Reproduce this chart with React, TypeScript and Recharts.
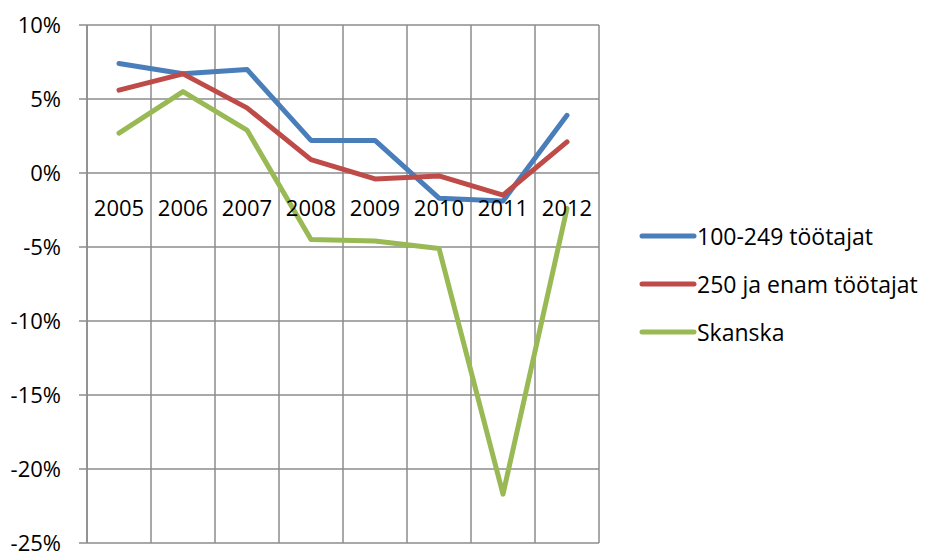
import React from 'react';
import { LineChart, Line, XAxis, YAxis, CartesianGrid, Legend, ReferenceDot } from 'recharts';

const years = ['2005', '2006', '2007', '2008', '2009', '2010', '2011', '2012'];
const mid = [7.4, 6.7, 7.0, 2.2, 2.2, -1.7, -1.9, 3.9];
const large = [5.6, 6.7, 4.4, 0.9, -0.4, -0.2, -1.5, 2.1];
const skanska = [2.7, 5.5, 2.9, -4.5, -4.6, -5.1, -21.7, -2.4];
const yTicks = [-25, -20, -15, -10, -5, 0, 5, 10];

const seriesNames = ['100-249 töötajat', '250 ja enam töötajat', 'Skanska'];
const colors = ['#4a7ebb', '#be4b48', '#98b954'];

const data = years.map((y, i) => ({ year: y, mid: mid[i], large: large[i], skanska: skanska[i] }));

const FONT = '"Open Sans", sans-serif';
const GRID = '#8c8c8c';

const LegendContent = () => (
  <div style={{ width: 326, paddingLeft: 40, boxSizing: 'border-box', fontFamily: FONT, fontSize: 23, color: '#000' }}>
    {seriesNames.map((n, i) => (
      <div key={n} style={{ height: 48, display: 'flex', alignItems: 'center', whiteSpace: 'nowrap' }}>
        <svg width={58} height={10} style={{ display: 'block' }}>
          <line x1={3} y1={5} x2={55} y2={5} stroke={colors[i]} strokeWidth={5} strokeLinecap="round" />
        </svg>
        <span>{n}</span>
      </div>
    ))}
  </div>
);

export default function App() {
  return (
    <div style={{ position: 'absolute', left: 0, top: 0, width: 925, height: 551, background: '#fff' }}>
      <LineChart width={925} height={551} data={data} margin={{ top: 25, right: 0, left: 0, bottom: 8 }}>
        <CartesianGrid
          stroke={GRID}
          strokeWidth={1.5}
          verticalCoordinatesGenerator={({ offset }: any) =>
            Array.from({ length: years.length + 1 }, (_, i) => offset.left + (i * offset.width) / years.length)
          }
        />
        <XAxis dataKey="year" scale="band" hide />
        <YAxis
          domain={[-25, 10]}
          ticks={yTicks}
          width={87}
          tickFormatter={(v: number) => `${v}%`}
          axisLine={{ stroke: GRID, strokeWidth: 1.5 }}
          tickLine={{ stroke: GRID, strokeWidth: 1.5 }}
          tickSize={8}
          tickMargin={18}
          tick={{ fill: '#000', fontSize: 22, fontFamily: FONT }}
          interval={0}
        />
        {years.map((y) => (
          <ReferenceDot
            key={y}
            x={y}
            y={0}
            r={1}
            fill="none"
            stroke="none"
            label={{ value: y, position: 'bottom', offset: 26, fill: '#000', fontSize: 22, fontFamily: FONT }}
          />
        ))}
        <Line dataKey="mid" name={seriesNames[0]} stroke={colors[0]} strokeWidth={5} dot={false} isAnimationActive={false} strokeLinecap="round" strokeLinejoin="round" />
        <Line dataKey="large" name={seriesNames[1]} stroke={colors[1]} strokeWidth={5} dot={false} isAnimationActive={false} strokeLinecap="round" strokeLinejoin="round" />
        <Line dataKey="skanska" name={seriesNames[2]} stroke={colors[2]} strokeWidth={5} dot={false} isAnimationActive={false} strokeLinecap="round" strokeLinejoin="round" />
        <Legend layout="vertical" align="right" verticalAlign="top" content={<LegendContent />} wrapperStyle={{ top: 212, right: 0 }} />
      </LineChart>
    </div>
  );
}
